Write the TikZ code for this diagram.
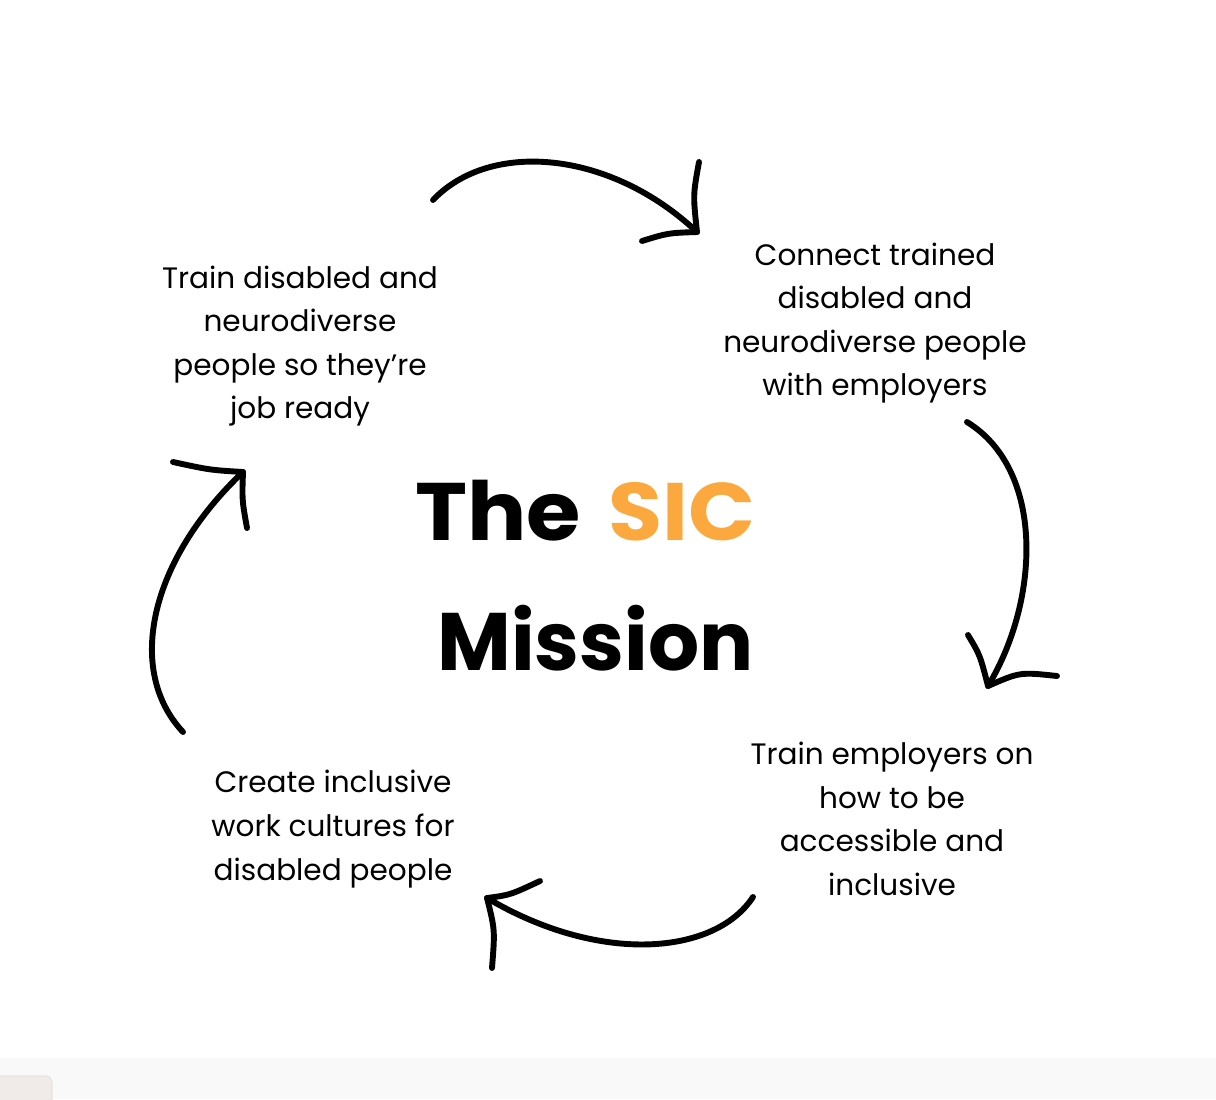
\documentclass[tikz,border=0pt]{standalone}
\usepackage{fontspec}
\setmainfont{Poppins}
\usepackage{tikz}
\usetikzlibrary{positioning}
\definecolor{sicorange}{RGB}{251,168,62}
\definecolor{stripgray}{RGB}{249,249,249}
\definecolor{tipgray}{RGB}{240,235,232}

\begin{document}
\begin{tikzpicture}[
    x=0.025cm, y=-0.025cm,
    steptext/.style={align=center, font=\fontsize{21}{31}\selectfont, text=black},
    titletext/.style={anchor=base west, inner sep=0pt, font=\fontsize{58}{92}\selectfont\bfseries},
    sketch/.style={line width=4.2pt, line cap=round, line join=round}
]
\useasboundingbox (0,0) rectangle (1216,1099);
\fill[white] (0,0) rectangle (1216,1099);
\fill[stripgray] (0,1058) rectangle (1216,1099);
\fill[tipgray, draw=gray!30, rounded corners=4pt] (-10,1076) rectangle (52,1110);

% title
\node[titletext] (titlethe) at (415,540) {\addfontfeatures{FakeStretch=1.08}The\hspace{0.34em}\textcolor{sicorange}{SIC}};
\node[titletext] (titlemission) at (437,670) {\addfontfeatures{FakeStretch=0.985}Mission};

% the four steps
\node[steptext] (train) at (300,346) {Train disabled and\\neurodiverse\\people so they're\\job ready};
\node[steptext] (connect) at (875,323) {Connect trained\\disabled and\\neurodiverse people\\with employers};
\node[steptext] (employers) at (892,819) {Train employers on\\how to be\\accessible and\\inclusive};
\node[steptext] (culture) at (333,829) {Create inclusive\\work cultures for\\disabled people};

% arrow ends
\coordinate (topS) at (433,200);
\coordinate (topE) at (697,232);
\coordinate (rightS) at (967,422);
\coordinate (rightE) at (988,686);
\coordinate (botS) at (753,897);
\coordinate (botE) at (487,898);
\coordinate (leftS) at (183,732);
\coordinate (leftE) at (243,472);

% hand drawn arrows
\draw[sketch] (topS) .. controls (490,140) and (610,150) .. (topE);
\draw[sketch] (699,162) .. controls (693,195) .. (topE) .. controls (668,233) .. (642,241);
\draw[sketch] (rightS) .. controls (1045,470) and (1040,600) .. (rightE);
\draw[sketch] (968,635) .. controls (980,655) .. (rightE) .. controls (1020,672) .. (1057,676);
\draw[sketch] (botS) .. controls (715,955) and (600,965) .. (botE);
\draw[sketch] (540,881) .. controls (510,895) .. (botE) .. controls (495,930) .. (492,968);
\draw[sketch] (leftS) .. controls (125,670) and (150,560) .. (leftE);
\draw[sketch] (173,462) .. controls (210,470) .. (leftE) .. controls (242,500) .. (247,528);
\end{tikzpicture}
\end{document}
